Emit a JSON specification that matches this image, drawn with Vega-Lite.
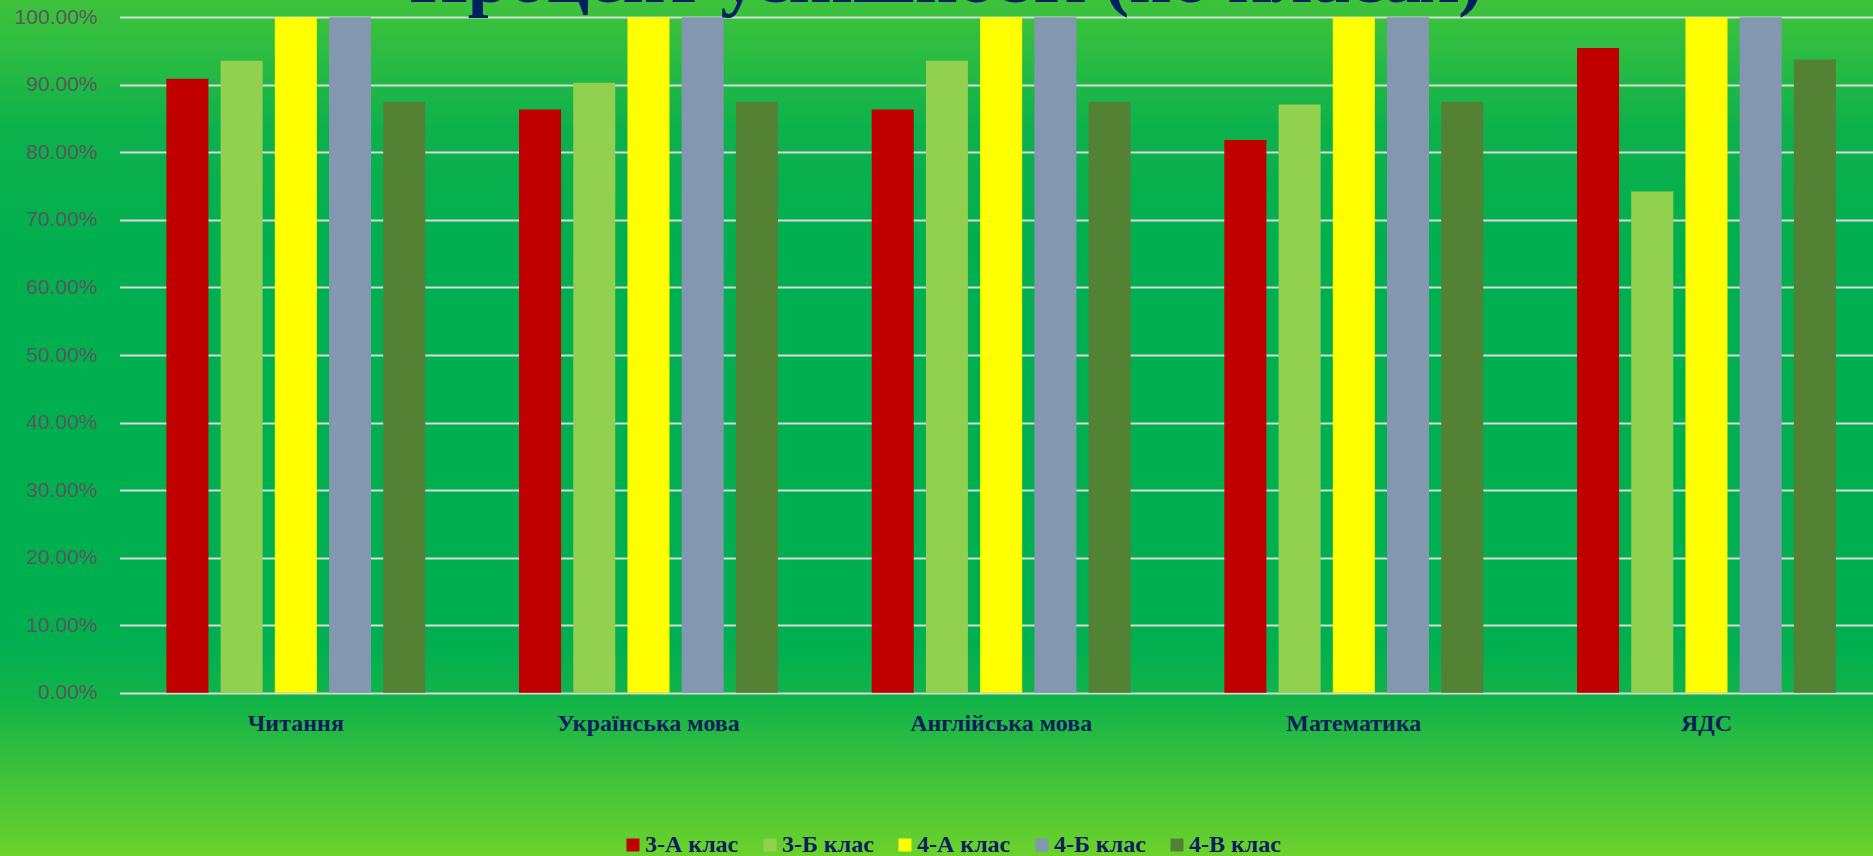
{
  "$schema": "https://vega.github.io/schema/vega-lite/v6.json",
  "width": 1873,
  "height": 856,
  "autosize": {"type": "none"},
  "padding": 0,
  "background": "#00B050",
  "title": {
    "text": "Процент успішності (по класах)",
    "font": "Liberation Serif",
    "fontSize": 74.5,
    "fontWeight": "bold",
    "color": "#002060",
    "anchor": "middle",
    "frame": "group",
    "offset": -76,
    "baseline": "alphabetic",
    "dx": 10
  },
  "config": {
    "view": {
      "stroke": null,
      "fill": {
        "gradient": "linear",
        "x1": 0, "y1": 0, "x2": 0, "y2": 1,
        "stops": [
          {"offset": 0, "color": "#3EC23C"},
          {"offset": 0.04, "color": "#33BF3F"},
          {"offset": 0.15, "color": "#0DB14B"},
          {"offset": 0.3, "color": "#00AF50"},
          {"offset": 0.75, "color": "#00AF50"},
          {"offset": 0.82, "color": "#12B448"},
          {"offset": 0.9, "color": "#3CC13C"},
          {"offset": 1, "color": "#6CD22C"}
        ]
      }
    }
  },
  "data": {
    "values": [
      {"subject": "Читання", "class": "3-А клас", "value": 0.9091},
      {"subject": "Читання", "class": "3-Б клас", "value": 0.9355},
      {"subject": "Читання", "class": "4-А клас", "value": 1.0},
      {"subject": "Читання", "class": "4-Б клас", "value": 1.0},
      {"subject": "Читання", "class": "4-В клас", "value": 0.875},
      {"subject": "Українська мова", "class": "3-А клас", "value": 0.8636},
      {"subject": "Українська мова", "class": "3-Б клас", "value": 0.9032},
      {"subject": "Українська мова", "class": "4-А клас", "value": 1.0},
      {"subject": "Українська мова", "class": "4-Б клас", "value": 1.0},
      {"subject": "Українська мова", "class": "4-В клас", "value": 0.875},
      {"subject": "Англійська мова", "class": "3-А клас", "value": 0.8636},
      {"subject": "Англійська мова", "class": "3-Б клас", "value": 0.9355},
      {"subject": "Англійська мова", "class": "4-А клас", "value": 1.0},
      {"subject": "Англійська мова", "class": "4-Б клас", "value": 1.0},
      {"subject": "Англійська мова", "class": "4-В клас", "value": 0.875},
      {"subject": "Математика", "class": "3-А клас", "value": 0.8182},
      {"subject": "Математика", "class": "3-Б клас", "value": 0.871},
      {"subject": "Математика", "class": "4-А клас", "value": 1.0},
      {"subject": "Математика", "class": "4-Б клас", "value": 1.0},
      {"subject": "Математика", "class": "4-В клас", "value": 0.875},
      {"subject": "ЯДС", "class": "3-А клас", "value": 0.9545},
      {"subject": "ЯДС", "class": "3-Б клас", "value": 0.7419},
      {"subject": "ЯДС", "class": "4-А клас", "value": 1.0},
      {"subject": "ЯДС", "class": "4-Б клас", "value": 1.0},
      {"subject": "ЯДС", "class": "4-В клас", "value": 0.9375}
    ]
  },
  "mark": {"type": "bar"},
  "encoding": {
    "x": {
      "field": "subject",
      "type": "nominal",
      "sort": ["Читання", "Українська мова", "Англійська мова", "Математика", "ЯДС"],
      "scale": {"range": [119.5, 1882.8], "paddingInner": 0, "paddingOuter": 0},
      "axis": {
        "title": null,
        "orient": "bottom",
        "offset": -163.3,
        "domain": false,
        "ticks": false,
        "tickSize": 0,
        "grid": false,
        "labelAngle": 0,
        "labelFont": "Liberation Serif",
        "labelFontWeight": "bold",
        "labelFontSize": 24,
        "labelColor": "#0D1E5C",
        "labelBaseline": "alphabetic",
        "labelPadding": 37.3,
        "labelLimit": 0
      }
    },
    "xOffset": {
      "field": "class",
      "type": "nominal",
      "sort": ["3-А клас", "3-Б клас", "4-А клас", "4-Б клас", "4-В клас"],
      "scale": {"paddingInner": 0.225, "paddingOuter": 0.865}
    },
    "y": {
      "field": "value",
      "type": "quantitative",
      "scale": {"domain": [0, 1], "range": [692.7, 17.3]},
      "axis": {
        "title": null,
        "orient": "left",
        "offset": -97,
        "values": [0, 0.1, 0.2, 0.3, 0.4, 0.5, 0.6, 0.7, 0.8, 0.9, 1.0],
        "format": ".2%",
        "domain": false,
        "ticks": false,
        "tickSize": 0,
        "labelPadding": 0,
        "labelFont": "Liberation Sans",
        "labelFontSize": 21,
        "labelColor": "#595959",
        "grid": true,
        "gridColor": "#D9D9D9",
        "gridWidth": 2
      }
    },
    "color": {
      "field": "class",
      "type": "nominal",
      "sort": ["3-А клас", "3-Б клас", "4-А клас", "4-Б клас", "4-В клас"],
      "scale": {
        "domain": ["3-А клас", "3-Б клас", "4-А клас", "4-Б клас", "4-В клас"],
        "range": ["#C00000", "#92D050", "#FFFF00", "#8497B0", "#548235"]
      },
      "legend": {
        "orient": "none",
        "legendX": 621,
        "legendY": 833,
        "direction": "horizontal",
        "title": null,
        "symbolType": "square",
        "symbolSize": 169,
        "symbolStrokeWidth": 0,
        "labelFont": "Liberation Serif",
        "labelFontWeight": "bold",
        "labelFontSize": 24,
        "labelColor": "#0D1E5C",
        "labelOffset": 0,
        "columnPadding": 19,
        "padding": 0,
        "labelLimit": 0
      }
    }
  }
}
